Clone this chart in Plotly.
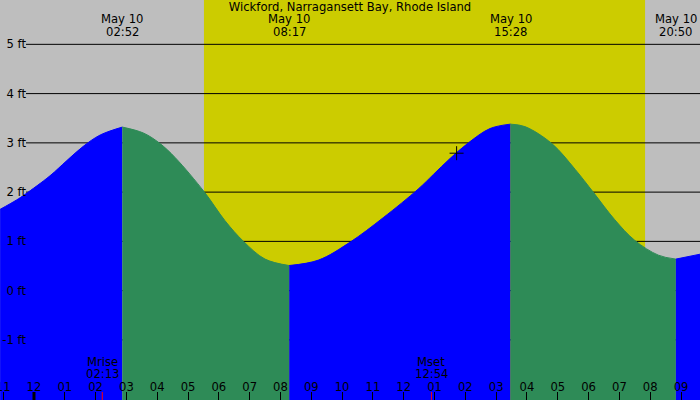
import plotly.graph_objects as go

# tide curve, split into rising / falling runs
day = "2024-05-10 "
prev = "2024-05-09 "

rise1_t = [prev + "22:54", prev + "23:26", prev + "23:42", day + "00:31", day + "01:04",
           day + "01:36", day + "02:09", day + "02:52"]
rise1_h = [1.65, 1.84, 1.95, 2.33, 2.64, 2.93, 3.16, 3.32]

fall1_t = [day + "02:52", day + "03:33", day + "04:05", day + "04:35", day + "05:32",
           day + "06:12", day + "06:48", day + "07:30", day + "08:17"]
fall1_h = [3.32, 3.20, 2.99, 2.70, 2.00, 1.42, 1.00, 0.64, 0.51]

rise2_t = [day + "08:17", day + "09:14", day + "10:15", day + "11:20", day + "12:28",
           day + "12:58", day + "13:30", day + "14:06", day + "14:48", day + "15:28"]
rise2_h = [0.51, 0.62, 0.98, 1.48, 2.06, 2.36, 2.68, 3.00, 3.29, 3.38]

fall2_t = [day + "15:28", day + "15:56", day + "16:48", day + "17:34", day + "18:09",
           day + "18:51", day + "19:30", day + "20:16", day + "20:50"]
fall2_h = [3.38, 3.33, 2.99, 2.46, 2.00, 1.44, 1.02, 0.72, 0.64]

rise3_t = [day + "20:50", day + "21:37"]
rise3_h = [0.64, 0.74]

extreme_t = [day + "02:52", day + "08:17", day + "15:28", day + "20:50"]
extreme_day = ["May 10", "May 10", "May 10", "May 10"]
extreme_time = ["02:52", "08:17", "15:28", "20:50"]

sunrise = day + "05:31"
sunset = day + "19:50"
moon_t = [day + "02:13", day + "12:54"]
moon_kind = ["Mrise", "Mset"]
moon_time = ["02:13", "12:54"]
now_t = day + "13:43"
now_h = 2.79

ft_ticks = [-1, 0, 1, 2, 3, 4, 5]
ft_text = ["-1 ft", "0 ft", "1 ft", "2 ft", "3 ft", "4 ft", "5 ft"]
x_range = [prev + "22:53:48", day + "21:37"]
y_range = [-2.22, 5.90]

BLUE = "#0000FF"
GREEN = "#2E8B57"
font = dict(family="DejaVu Sans", size=11.6, color="black")

fig = go.Figure()
runs = [(rise1_t, rise1_h, BLUE), (fall1_t, fall1_h, GREEN), (rise2_t, rise2_h, BLUE),
        (fall2_t, fall2_h, GREEN), (rise3_t, rise3_h, BLUE)]
for t, h, col in runs:
    fig.add_trace(go.Scatter(x=[t[0], t[-1]], y=[y_range[0] - 1] * 2, mode="lines",
                             line=dict(width=0), hoverinfo="skip", showlegend=False))
    fig.add_trace(go.Scatter(x=t, y=h, mode="lines",
                             line=dict(color=col, width=1, shape="spline", smoothing=1),
                             fill="tonexty", fillcolor=col, showlegend=False))

fig.add_trace(go.Scatter(x=[now_t], y=[now_h], mode="markers", showlegend=False,
                         marker=dict(symbol="cross-thin", size=10, line=dict(color="black", width=1))))
# empty trace so the label axis gets drawn
fig.add_trace(go.Scatter(x=[], y=[], xaxis="x2", showlegend=False))

shapes = [dict(type="rect", xref="x", yref="paper", x0=sunrise, x1=sunset, y0=0, y1=1,
               fillcolor="#CCCC00", line=dict(width=0), layer="below")]
for v in ft_ticks:
    shapes.append(dict(type="line", xref="paper", yref="y", x0=26 / 700, x1=1, y0=v, y1=v,
                       line=dict(color="black", width=1), layer="below"))
shapes.append(dict(type="line", xref="x", yref="paper", x0=day + "00:00", x1=day + "00:00",
                   y0=0, y1=8 / 400, line=dict(color="black", width=3)))
for t in moon_t:
    shapes.append(dict(type="line", xref="x", yref="paper", x0=t, x1=t, y0=0, y1=8 / 400,
                       line=dict(color="red", width=1)))

annotations = []
for t, d, hm in zip(extreme_t, extreme_day, extreme_time):
    for s, off in ((d, -19), (hm, -32)):
        annotations.append(dict(x=t, y=1, xref="x", yref="paper", yanchor="middle", yshift=off,
                                text=s, showarrow=False, font=font))
for t, k, hm in zip(moon_t, moon_kind, moon_time):
    for s, off in ((k, 38), (hm, 26)):
        annotations.append(dict(x=t, y=0, xref="x", yref="paper", yanchor="middle", yshift=off,
                                text=s, showarrow=False, font=font))

fig.update_layout(
    width=700, height=400,
    margin=dict(l=0, r=0, t=0, b=0),
    paper_bgcolor="#BEBEBE", plot_bgcolor="#BEBEBE",
    font=font,
    title=dict(text="Wickford, Narragansett Bay, Rhode Island", x=0.5, xanchor="center",
               y=1 - 7 / 400, yanchor="middle", yref="container", font=font),
    shapes=shapes, annotations=annotations,
    xaxis=dict(type="date", range=x_range, showgrid=False, zeroline=False, showline=False,
               ticks="inside", ticklen=8, tickcolor="black", dtick=3600000,
               tick0=day + "00:00", showticklabels=False, automargin=False),
    xaxis2=dict(type="date", range=x_range, overlaying="x", anchor="free", position=22 / 400,
                side="bottom", showgrid=False, zeroline=False, showline=False, ticks="",
                dtick=3600000, tick0=day + "00:00", tickformat="%I", ticklabeloverflow="allow",
                tickfont=font, automargin=False),
    yaxis=dict(range=y_range, anchor="free", position=26 / 700, side="left", showgrid=False,
               zeroline=False, showline=False, ticks="", tickvals=ft_ticks, ticktext=ft_text,
               tickfont=font, automargin=False),
)

fig.write_html("out.html", config={"displayModeBar": False},
               post_script="document.body.style.margin='0';")
